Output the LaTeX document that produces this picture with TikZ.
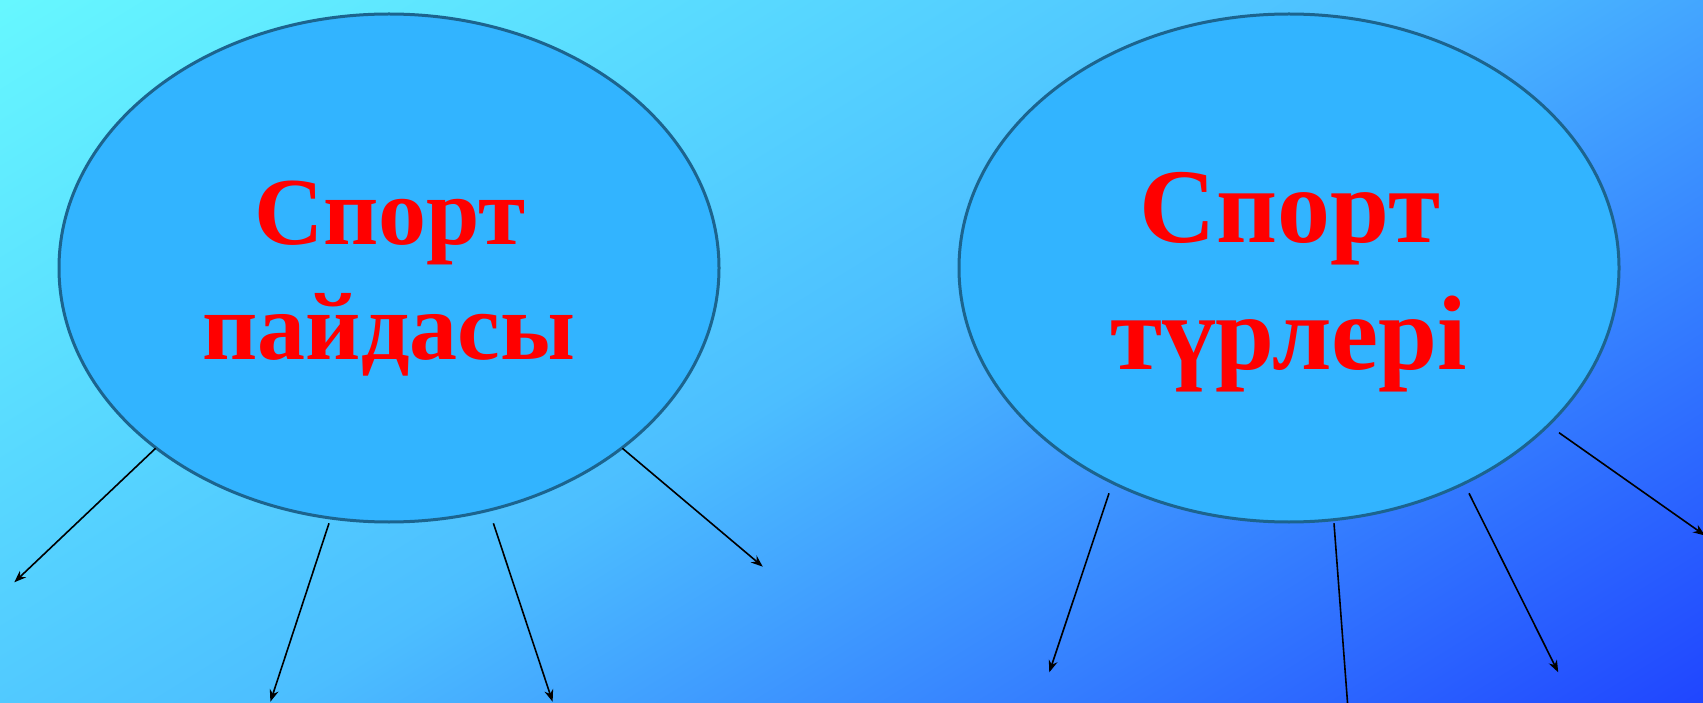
\documentclass[tikz,border=0pt]{standalone}
\usepackage{fontspec}
\setmainfont{Liberation Serif}
\usetikzlibrary{arrows.meta,shapes.geometric}
\definecolor{bgcyan}{RGB}{102,247,255}
\definecolor{bgmid}{RGB}{76,190,255}
\definecolor{bgdeep}{RGB}{32,70,255}
\definecolor{ellfill}{RGB}{50,180,255}
\definecolor{elledge}{RGB}{28,100,142}
\definecolor{txtred}{RGB}{255,0,0}
\pgfdeclareverticalshading{bgshade}{100bp}{color(0bp)=(bgdeep); color(31.33bp)=(bgdeep); color(50bp)=(bgmid); color(68.67bp)=(bgcyan); color(100bp)=(bgcyan)}
\tikzset{
  bubble/.style={ellipse, draw=elledge, line width=3pt, fill=ellfill,
    minimum width=660pt, minimum height=508pt, inner sep=0pt},
  smalltitle/.style={anchor=base, text=txtred, inner sep=0pt,
    font=\bfseries\fontsize{96}{114}\selectfont},
  bigtitle/.style={anchor=base, text=txtred, inner sep=0pt,
    font=\bfseries\fontsize{106}{126}\selectfont},
  ray/.style={line width=1.6pt, black, -{Stealth[length=12pt,width=9pt]}}
}
\begin{document}
\begin{tikzpicture}[x=1pt,y=-1pt]
\useasboundingbox (0,0) rectangle (1703,703);
\begin{scope}
\clip (0,0) rectangle (1703,703);
\shade[shading=bgshade, shading angle=31.7] (-148.5,-648.5) rectangle (1851.5,1351.5);

\node[bubble] (L) at (389,268) {};
\node[bubble] (R) at (1289,268) {};

\node[smalltitle] (L1) at (390,245) {Спорт};
\node[smalltitle] (L2) at (389,359.5) {пайдасы};
\node[bigtitle] (R1) at (1290,243) {Спорт};
\node[bigtitle] (R2) at (1289,370) {түрлері};

\coordinate (s1) at (155.6,448.3);  \coordinate (e1) at (14.3,582.3);
\coordinate (s2) at (329,523.3);    \coordinate (e2) at (270.4,701.7);
\coordinate (s3) at (493.4,523.3);  \coordinate (e3) at (552.6,701.7);
\coordinate (s4) at (622.4,448.3);  \coordinate (e4) at (762.8,566.7);
\coordinate (s5) at (1109,493.3);   \coordinate (e5) at (1049.3,672.3);
\coordinate (s6) at (1334,523.3);   \coordinate (e6) at (1349.2,725);
\coordinate (s7) at (1469,493.3);   \coordinate (e7) at (1558.2,672.3);
\coordinate (s8) at (1559,432.7);   \coordinate (e8) at (1705,535.5);

\foreach \i in {1,...,8} { \draw[ray] (s\i) -- (e\i); }
\end{scope}
\end{tikzpicture}
\end{document}
